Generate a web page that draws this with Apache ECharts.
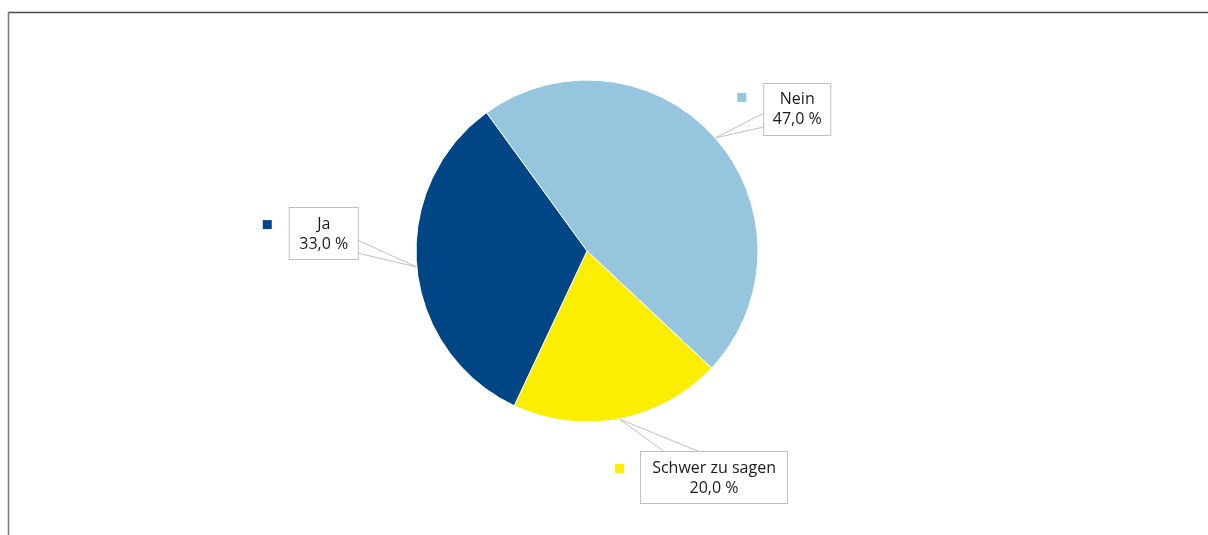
<!DOCTYPE html>
<html>
<head>
<meta charset="utf-8">
<script src="https://cdn.jsdelivr.net/npm/echarts@6/dist/echarts.min.js"></script>
<style>
  html, body { margin: 0; padding: 0; background: #fff; }
  #main { width: 1208px; height: 535px; }
</style>
</head>
<body>
<div id="main"></div>
<script>
// data
const categories = ['Nein', 'Schwer zu sagen', 'Ja']
const values = [47.0, 20.0, 33.0]

// styles
const colors = ['#96c6de', '#fcee00', '#004684']
const boxWidths = [66, 146, 68]
const boxOffsets = [[49, -54], [22, 33], [-127, -59]]          // box left/top relative to slice edge point
const attach = [[[0, 29], [0, 43]], [[24, 0], [59, 0]], [[68, 32], [68, 45]]] // callout corners on box
const iconOffsets = [[-27, 9], [-26, 12], [-27, 12]]

const center = [587, 251]
const radius = 171
const startAngle = 126
const font = '"Open Sans", "Noto Sans", sans-serif'

const total = values.reduce((a, b) => a + b, 0)
function edgePoint(i) {
  let acc = 0
  for (let j = 0; j < i; j++) acc += values[j]
  const mid = (startAngle - (acc + values[i] / 2) / total * 360) * Math.PI / 180
  return [center[0] + radius * Math.cos(mid), center[1] - radius * Math.sin(mid)]
}
function boxPos(i) {
  const e = edgePoint(i)
  return [e[0] + boxOffsets[i][0], e[1] + boxOffsets[i][1]]
}

const chart = echarts.init(document.getElementById('main'))
chart.setOption({
  animation: false,
  graphic: [
    { type: 'line', shape: { x1: 8, y1: 12.5, x2: 1208, y2: 12.5 }, style: { stroke: '#4a4a4a', lineWidth: 1.5 } },
    { type: 'line', shape: { x1: 8.5, y1: 12, x2: 8.5, y2: 535 }, style: { stroke: '#7a7a7a', lineWidth: 1.5 } }
  ],
  series: [{
    type: 'pie',
    center: center,
    radius: radius,
    startAngle: startAngle,
    avoidLabelOverlap: false,
    itemStyle: { borderColor: '#fff', borderWidth: 1 },
    data: categories.map((n, i) => ({
      name: n,
      value: values[i],
      itemStyle: { color: colors[i] },
      label: { width: boxWidths[i] }
    })),
    label: {
      position: 'outside',
      formatter: p => p.name + '\n' + p.value.toFixed(1).replace('.', ',') + ' %',
      fontFamily: font,
      fontSize: 16,
      lineHeight: 20,
      color: '#1a1a1a',
      align: 'center',
      backgroundColor: '#fff',
      borderColor: '#bfbfbf',
      borderWidth: 1,
      padding: [6, 0, 5, 0]
    },
    labelLine: { show: true, lineStyle: { color: '#bfbfbf', width: 1 } },
    labelLayout: function (p) {
      const i = p.dataIndex
      const e = edgePoint(i)
      const b = boxPos(i)
      const a = attach[i]
      return {
        x: b[0] + boxWidths[i] / 2,
        y: b[1],
        align: 'center',
        verticalAlign: 'top',
        labelLinePoints: [[b[0] + a[0][0], b[1] + a[0][1]], e, [b[0] + a[1][0], b[1] + a[1][1]]]
      }
    }
  }, {
    // legend squares beside each box
    type: 'pie',
    center: center,
    radius: radius,
    startAngle: startAngle,
    silent: true,
    avoidLabelOverlap: false,
    itemStyle: { color: 'rgba(0,0,0,0)' },
    data: categories.map((n, i) => ({
      name: n,
      value: values[i],
      label: { backgroundColor: colors[i] }
    })),
    label: {
      position: 'outside',
      formatter: ' ',
      fontSize: 1,
      width: 9,
      height: 9,
      lineHeight: 9,
      padding: 0
    },
    labelLine: { show: false },
    labelLayout: function (p) {
      const i = p.dataIndex
      const b = boxPos(i)
      return {
        x: b[0] + iconOffsets[i][0],
        y: b[1] + iconOffsets[i][1],
        align: 'left',
        verticalAlign: 'top'
      }
    }
  }]
})
</script>
</body>
</html>
